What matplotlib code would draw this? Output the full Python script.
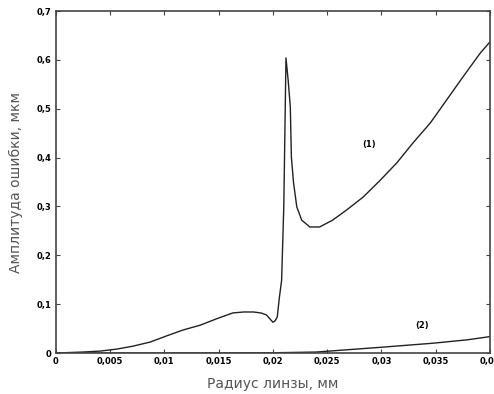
import matplotlib
matplotlib.use('Agg')
import matplotlib.pyplot as plt
from matplotlib.ticker import FuncFormatter

# curve (1)
x1 = [0.0, 0.0025, 0.0041, 0.0056, 0.0071, 0.0087, 0.0102, 0.0117, 0.0133,
      0.0148, 0.0163, 0.0173, 0.0182, 0.0189, 0.0194, 0.0198, 0.0200, 0.0202,
      0.0204, 0.0206, 0.0208, 0.0210, 0.0211, 0.0212, 0.0214, 0.0216,
      0.0217, 0.0219, 0.0222, 0.02265, 0.0234, 0.0243, 0.0255, 0.0268,
      0.0283, 0.0299, 0.0314, 0.0329, 0.0345, 0.0360, 0.0375, 0.0391, 0.0400]
y1 = [0.0, 0.002, 0.004, 0.008, 0.014, 0.0225, 0.035, 0.047, 0.057,
      0.070, 0.082, 0.084, 0.084, 0.082, 0.078, 0.068, 0.063, 0.066,
      0.074, 0.115, 0.149, 0.30, 0.45, 0.604, 0.559, 0.504,
      0.401, 0.348, 0.299, 0.272, 0.258, 0.258, 0.272, 0.293,
      0.319, 0.354, 0.389, 0.430, 0.471, 0.518, 0.565, 0.614, 0.637]

# curve (2)
x2 = [0.0, 0.010, 0.020, 0.024, 0.0301, 0.0347, 0.0379, 0.0398, 0.0400]
y2 = [0.0, 0.0, 0.0005, 0.002, 0.012, 0.020, 0.027, 0.033, 0.034]

xticks = [0, 0.005, 0.01, 0.015, 0.02, 0.025, 0.03, 0.035, 0.04]
yticks = [0, 0.1, 0.2, 0.3, 0.4, 0.5, 0.6, 0.7]


def comma_fmt(v, pos):
    return ('%g' % round(v, 4)).replace('.', ',')


fig = plt.figure(figsize=(4.94, 3.94), dpi=100)
ax = fig.add_axes([0.113, 0.104, 0.879, 0.868])

ax.plot(x1, y1, color='#222222', lw=1.0)
ax.plot(x2, y2, color='#222222', lw=1.0)

ax.text(0.0289, 0.426, '(1)', fontsize=6, fontweight='bold', ha='center', va='center')
ax.text(0.0337, 0.057, '(2)', fontsize=6, fontweight='bold', ha='center', va='center')

ax.set_xlim(0, 0.04)
ax.set_ylim(0, 0.7)
ax.set_xticks(xticks)
ax.set_yticks(yticks)
ax.xaxis.set_major_formatter(FuncFormatter(comma_fmt))
ax.yaxis.set_major_formatter(FuncFormatter(comma_fmt))
ax.tick_params(direction='in', top=True, right=True, length=3, width=0.8,
               labelsize=6, pad=3, color='#444444')
for lab in ax.get_xticklabels() + ax.get_yticklabels():
    lab.set_fontweight('bold')
for sp in ax.spines.values():
    sp.set_color('#444444')
    sp.set_linewidth(1.2)

ax.set_xlabel('Радиус линзы, мм', fontsize=10, color='#555555', labelpad=8)
ax.set_ylabel('Амплитуда ошибки, мкм', fontsize=10, color='#555555', labelpad=10)

fig.savefig('out.png', dpi=100)
